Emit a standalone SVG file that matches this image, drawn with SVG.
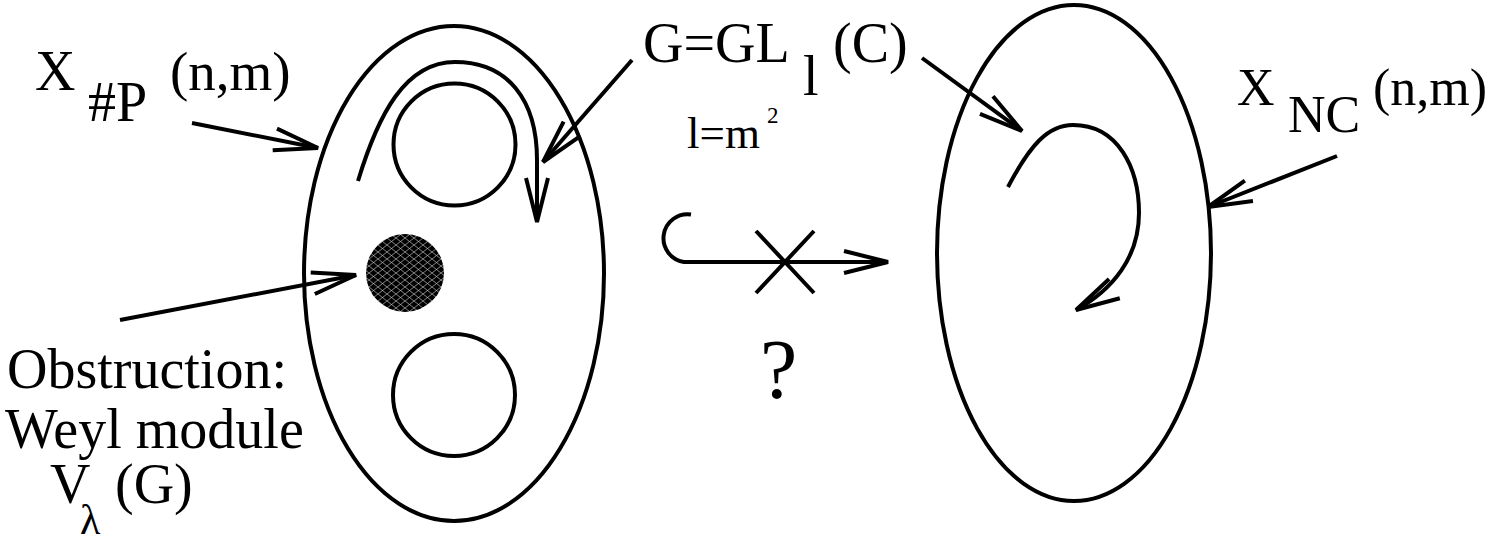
<svg xmlns="http://www.w3.org/2000/svg" width="1506" height="547" viewBox="0 0 1506 547">
<style>
.ln{fill:none;stroke:#000;stroke-width:4;stroke-linecap:butt;stroke-linejoin:miter}
.ar{marker-end:url(#vh)}
.t{font-family:"Liberation Serif","Times New Roman",serif;fill:#000}
</style>
<defs>
<marker id="vh" markerUnits="userSpaceOnUse" markerWidth="60" markerHeight="40" refX="0" refY="0" viewBox="-50 -20 60 40" orient="auto" overflow="visible">
<path d="M-44,-11 L0,0 L-44,11" fill="none" stroke="#000" stroke-width="4"/>
</marker>
<pattern id="mesh" patternUnits="userSpaceOnUse" width="9" height="7">
<rect width="9" height="7" fill="#000"/>
<path d="M0,0 L9,7 M9,0 L0,7 M-4.5,3.5 L0,7 M9,0 L13.5,3.5" stroke="#bbb" stroke-width="0.7" fill="none"/>
</pattern>
</defs>
<g id="left-space">
<ellipse class="ln" cx="454" cy="273.5" rx="150" ry="247.5"/>
<circle class="ln" cx="454.5" cy="144.5" r="61"/>
<circle class="ln" cx="454" cy="395" r="61"/>
<circle id="obstruction-dot" cx="405" cy="273" r="39" fill="url(#mesh)"/>
</g>
<g id="right-space">
<ellipse class="ln" cx="1074" cy="253" rx="137" ry="248"/>
</g>
<g id="connectors">
<path class="ln ar" d="M358,181 C378,115 405,62 455,62 C508,62 537,100 537,160 L537,222"/>
<path class="ln ar" d="M1008,187 C1030,145 1048,125 1073,125 C1118,125 1139,168 1139,213 C1139,258 1112,290 1076,310"/>
<path class="ln ar" d="M192,123 L318,148"/>
<path class="ln ar" d="M120,320 L356,275"/>
<path class="ln ar" d="M632,60 L543,162"/>
<path class="ln ar" d="M922,58 L1022,131"/>
<path class="ln ar" d="M1337,156 L1208,207"/>
<path class="ln ar" d="M691,214.5 A24,24 0 1 0 684,262 L888,262"/>
<path class="ln" d="M756,231 L814,293 M814,231 L756,293"/>
</g>
<g id="labels">
<text class="t" x="35" y="90" font-size="56">X</text>
<text class="t" x="88" y="121" font-size="56">#P</text>
<text class="t" x="170" y="90" font-size="55">(n,m)</text>
<text class="t" x="643" y="62" font-size="56">G=GL</text>
<text class="t" x="803" y="95" font-size="56">l</text>
<text class="t" x="833" y="62" font-size="56">(C)</text>
<text class="t" x="687" y="148" font-size="45">l=m</text>
<text class="t" x="767" y="123" font-size="23">2</text>
<text class="t" x="1237" y="105" font-size="52">X</text>
<text class="t" x="1288" y="132" font-size="52">NC</text>
<text class="t" x="1373" y="105" font-size="52">(n,m)</text>
<text class="t" x="7" y="388" font-size="56">Obstruction:</text>
<text class="t" x="5" y="448" font-size="56">Weyl module</text>
<text class="t" x="50" y="503" font-size="56">V</text>
<text class="t" x="80" y="534" font-size="42">λ</text>
<text class="t" x="115" y="503" font-size="56">(G)</text>
<text class="t" x="760" y="398" font-size="84">?</text>
</g>
</svg>
